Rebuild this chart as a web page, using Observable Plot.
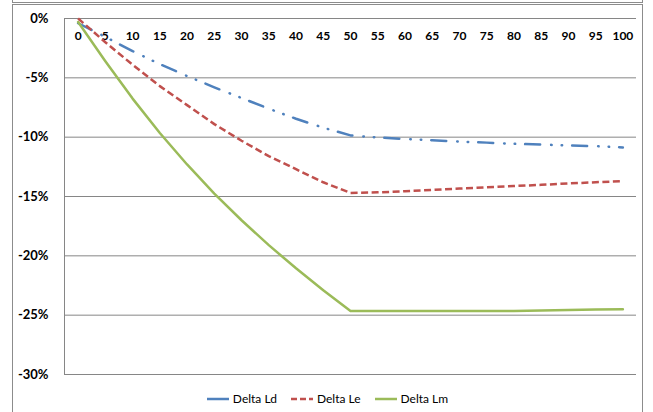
<!DOCTYPE html>
<html><head><meta charset="utf-8">
<script src="https://cdn.jsdelivr.net/npm/d3@7"></script>
<script src="https://cdn.jsdelivr.net/npm/@observablehq/plot@0.6"></script>
<style>
body{margin:0;background:#fff;font-family:Lato,"Open Sans",sans-serif;}
#wrap{position:relative;width:653px;height:412px;overflow:hidden;}
#topbox{position:absolute;left:12px;top:-10px;width:629px;height:11px;border:1px solid #8c8c8c;}
#box{position:absolute;left:12px;top:4px;width:629px;height:430px;border:1px solid #8c8c8c;}
#chart{position:absolute;left:0;top:0;}
#legend{position:absolute;left:12px;width:631px;top:391px;display:flex;justify-content:center;align-items:center;font-size:12px;color:#000;}
.item{display:flex;align-items:center;margin:0 7px;}
.item svg{margin-right:4px;}
</style></head>
<body><div id="wrap"><div id="topbox"></div><div id="box"></div><div id="chart"></div><div id="legend"></div></div>
<script>
const xs = [0,5,10,15,20,25,30,35,40,45,50,55,60,65,70,75,80,85,90,95,100];
const deltaLd = [-0.4,-1.55,-2.75,-3.85,-4.85,-5.8,-6.7,-7.6,-8.45,-9.2,-9.85,-10.03,-10.15,-10.26,-10.37,-10.46,-10.56,-10.62,-10.7,-10.76,-10.87];
const deltaLe = [0,-2.0,-3.9,-5.7,-7.3,-8.9,-10.3,-11.6,-12.7,-13.8,-14.7,-14.65,-14.56,-14.45,-14.33,-14.22,-14.12,-14.02,-13.9,-13.8,-13.7];
const deltaLm = [-0.3,-3.6,-6.75,-9.65,-12.3,-14.75,-17.0,-19.1,-21.05,-22.9,-24.65,-24.65,-24.65,-24.65,-24.65,-24.65,-24.65,-24.6,-24.57,-24.52,-24.5];
const yTicks = [0,-5,-10,-15,-20,-25,-30];
const seriesNames = ["Delta Ld","Delta Le","Delta Lm"];
const seriesValues = [deltaLd, deltaLe, deltaLm];
const colors = ["#4F81BD","#C0504D","#9BBB59"];
const dashes = ["15,11,0.5,10,0.5,10","7,3.5",null];
const caps = ["round","butt","round"];

const rows = seriesNames.flatMap((n,k) => xs.map((x,i) => ({x, y: seriesValues[k][i], name: n})));

const chart = Plot.plot({
  width: 653, height: 385,
  marginLeft: 64, marginRight: 17, marginTop: 18, marginBottom: 11,
  style: {fontFamily: "Lato, 'Open Sans', sans-serif", background: "transparent", overflow: "visible", color: "#000"},
  x: {type: "linear", domain: [-2.5, 102.5]},
  y: {domain: [-30, 0]},
  marks: [
    Plot.gridY(yTicks, {stroke: "#868686", strokeOpacity: 1, strokeWidth: 1}),
    Plot.ruleX([-2.5], {y1: -30, y2: 0, stroke: "#868686", strokeWidth: 1}),
    Plot.axisY(yTicks, {tickSize: 0, tickPadding: 16, tickFormat: d => d + "%", fontSize: 13, fontWeight: "bold", label: null}),
    Plot.axisX(xs, {anchor: "top", tickSize: 0, tickPadding: -21, tickFormat: d => String(d), fontSize: 12, fontWeight: "bold", label: null}),
    ...seriesNames.map((n,k) => Plot.line(rows.filter(r => r.name === n), {
      x: "x", y: "y", stroke: colors[k], strokeWidth: 2.5,
      strokeDasharray: dashes[k], strokeLinecap: caps[k], strokeLinejoin: "round"
    }))
  ]
});
document.getElementById("chart").appendChild(chart);

const legend = document.getElementById("legend");
seriesNames.forEach((n,k) => {
  const item = document.createElement("div");
  item.className = "item";
  const legendDash = k === 1 ? "6,3" : null;
  item.innerHTML = `<svg width="22" height="6"><line x1="0" y1="3" x2="22" y2="3" stroke="${colors[k]}" stroke-width="2.5" ${legendDash ? `stroke-dasharray="${legendDash}"` : ""}/></svg><span>${n}</span>`;
  legend.appendChild(item);
});
</script></body></html>
